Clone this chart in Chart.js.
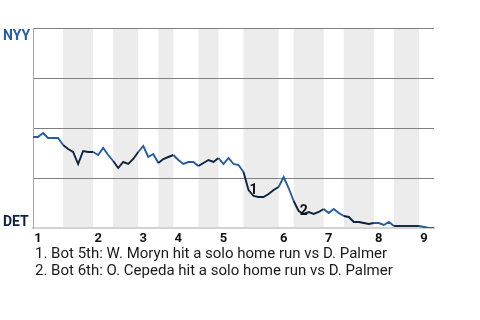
<!DOCTYPE html>
<html>
<head>
<meta charset="utf-8">
<script src="https://cdn.jsdelivr.net/npm/chart.js@4/dist/chart.umd.min.js"></script>
<style>
  body { margin: 0; background: #fff; font-family: Roboto, sans-serif; }
  #wrap { position: relative; width: 480px; height: 320px; }
  #notes { position: absolute; left: 35px; top: 245px; font-size: 15px; line-height: 17px; color: #1a1a1a; }
</style>
</head>
<body>
<div id="wrap">
  <canvas id="wpChart" width="480" height="245"></canvas>
  <div id="notes"></div>
</div>
<script>
// NYY win probability (%) after each plate appearance
const nyyWinPct = [
  45.5, 45.5, 47.5, 45, 45, 45, 41.5, 39.5, 38, 32,
  38.5, 38, 38, 36.5, 40, 36.5, 33.5, 30, 33, 32,
  34.5, 38, 41, 35.5, 37, 32.5, 34.5, 35.5, 36.5, 34,
  32, 33, 33, 31, 32.5, 34, 33, 35, 32, 35,
  32, 31.5, 28, 19, 16, 15.5, 15.5, 17, 19, 20.5,
  25.5, 20, 13.5, 8.5, 7, 8, 7, 8, 9.5, 7.5,
  9.5, 7.5, 6, 5.5, 3, 3, 2.5, 2, 2.5, 2.5,
  1.5, 3, 1, 1, 1, 1, 1, 1, 0.5, 0, 0
];

// plate appearance index where each half inning starts (last = end of game)
const halfInningStarts = [0, 6, 12, 16, 21, 25, 28, 33, 37, 42, 49, 52, 58, 62, 68, 72, 77, 80];
const inningLabels = ["1", "2", "3", "4", "5", "6", "7", "8", "9"];
const inningStarts = halfInningStarts.filter((v, i) => i % 2 === 0 && i < 17);

const teamTop = "NYY";
const teamBottom = "DET";

const noteEvents = [43, 53];
const noteLabels = ["1", "2"];
const noteTexts = [
  "Bot 5th: W. Moryn hit a solo home run vs D. Palmer",
  "Bot 6th: O. Cepeda hit a solo home run vs D. Palmer"
];

const blue = "#245ca3";
const navy = "#0c2340";

function halfIndex(i) {
  let k = 0;
  while (k < halfInningStarts.length - 1 && halfInningStarts[k + 1] <= i) k++;
  return k;
}

// shaded bottom halves
const bandsPlugin = {
  id: "bands",
  beforeDraw(chart) {
    const { ctx, chartArea, scales } = chart;
    ctx.save();
    ctx.fillStyle = "#ececec";
    for (let k = 1; k < halfInningStarts.length - 1; k += 2) {
      const x0 = scales.x.getPixelForValue(halfInningStarts[k]);
      const x1 = scales.x.getPixelForValue(halfInningStarts[k + 1]);
      ctx.fillRect(x0, chartArea.top, x1 - x0, chartArea.bottom - chartArea.top);
    }
    ctx.restore();
  }
};

// team names and note markers
const labelsPlugin = {
  id: "labels",
  afterDatasetsDraw(chart) {
    const { ctx, scales } = chart;
    ctx.save();
    ctx.font = "bold 14px Roboto";
    ctx.textBaseline = "alphabetic";
    ctx.textAlign = "left";
    ctx.fillStyle = blue;
    ctx.fillText(teamTop, 3, scales.y.getPixelForValue(100) + 12);
    ctx.fillStyle = navy;
    ctx.fillText(teamBottom, 3, scales.y.getPixelForValue(0) - 2);

    ctx.font = "bold 14px Roboto";
    ctx.fillStyle = "#111";
    ctx.textBaseline = "middle";
    noteEvents.forEach((ev, i) => {
      const x = scales.x.getPixelForValue(ev);
      const y = scales.y.getPixelForValue(nyyWinPct[ev]);
      ctx.fillText(noteLabels[i], x + 1, y);
    });
    ctx.restore();
  }
};

new Chart(document.getElementById("wpChart"), {
  type: "line",
  data: {
    datasets: [{
      data: nyyWinPct.map((v, i) => ({ x: i, y: v })),
      borderWidth: 1.9,
      pointRadius: 0,
      tension: 0,
      borderColor: blue,
      segment: {
        borderColor: c => (halfIndex(c.p0DataIndex) % 2 === 0 ? blue : navy)
      }
    }]
  },
  options: {
    responsive: false,
    animation: false,
    devicePixelRatio: 1,
    layout: { padding: { left: 0, right: 46, top: 28, bottom: 0 } },
    plugins: { legend: { display: false }, tooltip: { enabled: false } },
    scales: {
      x: {
        type: "linear",
        min: 0,
        max: 80,
        afterBuildTicks: s => { s.ticks = inningStarts.map(v => ({ value: v })); },
        afterFit: s => { s.height = 17; },
        grid: { display: false, drawTicks: false },
        border: { color: "#d2d2d2", width: 2 },
        ticks: {
          padding: 3,
          labelOffset: 5,
          maxRotation: 0,
          autoSkip: false,
          color: "#111",
          font: { family: "Roboto", size: 13, weight: "bold" },
          callback: v => inningLabels[inningStarts.indexOf(v)]
        }
      },
      y: {
        min: 0,
        max: 100,
        afterFit: s => { s.width = 33; },
        ticks: { display: false, stepSize: 25 },
        grid: {
          drawTicks: false,
          lineWidth: 1,
          color: c => (c.tick.value === 0 ? "rgba(0,0,0,0)" : "#808080")
        },
        border: { color: "#a8a8a8", width: 1 }
      }
    }
  },
  plugins: [bandsPlugin, labelsPlugin]
});

document.getElementById("notes").innerHTML =
  noteTexts.map((t, i) => "<div>" + noteLabels[i] + ". " + t + "</div>").join("");
</script>
</body>
</html>
